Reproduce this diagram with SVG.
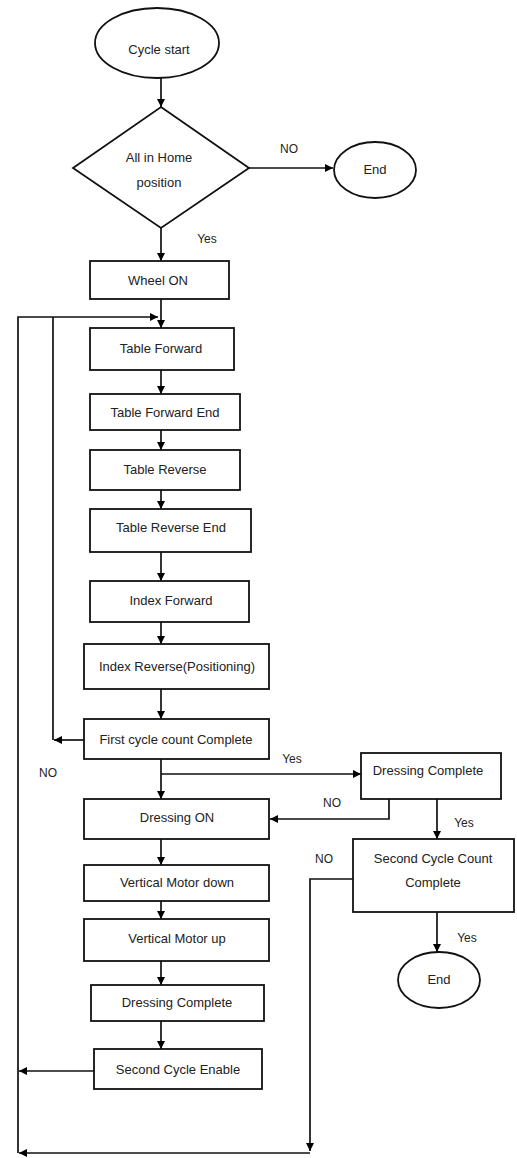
<svg xmlns="http://www.w3.org/2000/svg" width="517" height="1158" viewBox="0 0 517 1158">
<defs>
<marker id="ah" viewBox="0 0 10 10" refX="10" refY="5" markerWidth="9" markerHeight="8" markerUnits="userSpaceOnUse" orient="auto">
<path d="M0,0 L10,5 L0,10 z" fill="#000"/>
</marker>
<style>
.n{fill:#fff;stroke:#111;stroke-width:1.8}
.t{font-family:"Liberation Sans",Arial,sans-serif;font-size:13px;fill:#222;text-anchor:middle}
.l{font-family:"Liberation Sans",Arial,sans-serif;font-size:12px;fill:#222;text-anchor:middle}
.c{fill:none;stroke:#111;stroke-width:1.7}
.a{fill:none;stroke:#111;stroke-width:1.7;marker-end:url(#ah)}
</style>
</defs>
<rect width="517" height="1158" fill="#fff"/>
<g id="connectors">
<line class="a" x1="161" y1="78" x2="161" y2="107"/>
<line class="a" x1="249" y1="168" x2="333" y2="168"/>
<line class="a" x1="161" y1="228" x2="161" y2="261"/>
<line class="a" x1="161" y1="299" x2="161" y2="328"/>
<polyline class="a" points="18,1153 18,317 158,317"/>
<line class="c" x1="53" y1="740" x2="53" y2="317"/>
<line class="a" x1="161" y1="370" x2="161" y2="394"/>
<line class="a" x1="161" y1="430" x2="161" y2="450"/>
<line class="a" x1="161" y1="490" x2="161" y2="509"/>
<line class="a" x1="161" y1="552" x2="161" y2="581"/>
<line class="a" x1="161" y1="622" x2="161" y2="644"/>
<line class="a" x1="161" y1="689" x2="161" y2="719"/>
<line class="a" x1="84" y1="740" x2="54" y2="740"/>
<line class="a" x1="161" y1="759" x2="161" y2="799"/>
<line class="a" x1="161" y1="774" x2="361" y2="774"/>
<polyline class="a" points="389,799 389,819 270,819"/>
<line class="a" x1="437" y1="799" x2="437" y2="839"/>
<line class="a" x1="161" y1="839" x2="161" y2="865"/>
<line class="a" x1="161" y1="901" x2="161" y2="919"/>
<line class="a" x1="161" y1="961" x2="161" y2="985"/>
<line class="a" x1="161" y1="1021" x2="161" y2="1049"/>
<line class="a" x1="94" y1="1071" x2="19" y2="1071"/>
<polyline class="a" points="353,879 310,879 310,1151"/>
<line class="a" x1="310" y1="1153" x2="19" y2="1153"/>
<line class="a" x1="437" y1="912" x2="437" y2="952"/>
<text class="l" x="289" y="153">NO</text>
<text class="l" x="207" y="243">Yes</text>
<text class="l" x="48" y="777">NO</text>
<text class="l" x="292" y="763">Yes</text>
<text class="l" x="332" y="807">NO</text>
<text class="l" x="464" y="827">Yes</text>
<text class="l" x="324" y="863">NO</text>
<text class="l" x="467" y="942">Yes</text>
</g>
<g id="start"><ellipse class="n" cx="157" cy="43" rx="62" ry="35"/><text class="t" x="159" y="54">Cycle start</text></g>
<g id="home"><polygon class="n" points="161,107 249,168 161,228 73,168"/><text class="t" x="159" y="162">All in Home</text><text class="t" x="159" y="187">position</text></g>
<g id="end1"><ellipse class="n" cx="375" cy="170" rx="41" ry="28"/><text class="t" x="375" y="174">End</text></g>
<g id="wheel"><rect class="n" x="90" y="261" width="139" height="38"/><text class="t" x="158" y="285">Wheel ON</text></g>
<g id="tf"><rect class="n" x="90" y="328" width="144" height="42"/><text class="t" x="161" y="353">Table Forward</text></g>
<g id="tfe"><rect class="n" x="90" y="394" width="150" height="36"/><text class="t" x="165" y="417">Table Forward End</text></g>
<g id="tr"><rect class="n" x="90" y="450" width="150" height="40"/><text class="t" x="165" y="474">Table Reverse</text></g>
<g id="tre"><rect class="n" x="90" y="509" width="161" height="43"/><text class="t" x="171" y="532">Table Reverse End</text></g>
<g id="if"><rect class="n" x="90" y="581" width="159" height="41"/><text class="t" x="171" y="605">Index Forward</text></g>
<g id="ir"><rect class="n" x="84" y="644" width="185" height="45"/><text class="t" x="177" y="671">Index Reverse(Positioning)</text></g>
<g id="fcc"><rect class="n" x="84" y="719" width="185" height="40"/><text class="t" x="176" y="744">First cycle count Complete</text></g>
<g id="dc1"><rect class="n" x="361" y="753" width="140" height="46"/><text class="t" x="428" y="775">Dressing Complete</text></g>
<g id="don"><rect class="n" x="84" y="799" width="185" height="40"/><text class="t" x="177" y="822">Dressing ON</text></g>
<g id="vmd"><rect class="n" x="84" y="865" width="185" height="36"/><text class="t" x="177" y="887">Vertical Motor down</text></g>
<g id="vmu"><rect class="n" x="84" y="919" width="185" height="42"/><text class="t" x="177" y="943">Vertical Motor up</text></g>
<g id="dc2"><rect class="n" x="91" y="985" width="173" height="36"/><text class="t" x="177" y="1007">Dressing Complete</text></g>
<g id="sce"><rect class="n" x="94" y="1049" width="168" height="40"/><text class="t" x="178" y="1074">Second Cycle Enable</text></g>
<g id="scc"><rect class="n" x="353" y="839" width="161" height="73"/><text class="t" x="433" y="863">Second Cycle Count</text><text class="t" x="433" y="887">Complete</text></g>
<g id="end2"><ellipse class="n" cx="439" cy="980" rx="41" ry="28"/><text class="t" x="439" y="984">End</text></g>
</svg>
